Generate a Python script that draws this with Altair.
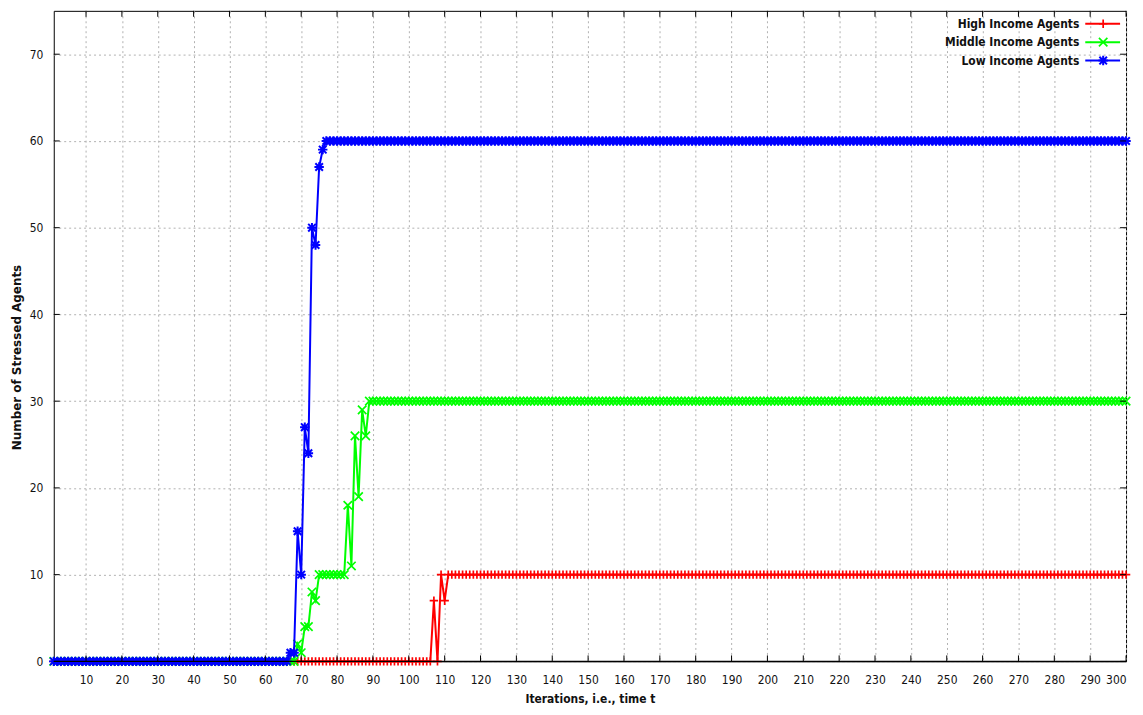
import altair as alt
import pandas as pd

# ---- data ----
iterations = list(range(1, 301))
high_income = [0] * 106 + [7, 0, 10, 7] + [10] * 190
middle_income = [0] * 68 + [2, 1, 4, 4, 8, 7] + [10] * 8 + [18, 11, 26, 19, 29, 26] + [30] * 212
low_income = [0] * 66 + [1, 1, 15, 10, 27, 24, 50, 48, 57, 59] + [60] * 224

series_names = ["High Income Agents", "Middle Income Agents", "Low Income Agents"]
series_values = [high_income, middle_income, low_income]
colors = ["#ff0000", "#00ff00", "#0000ff"]
shapes = [
    "M-1,0L1,0M0,-1L0,1",
    "M-1,-1L1,1M-1,1L1,-1",
    "M-1,0L1,0M0,-1L0,1M-0.8,-0.8L0.8,0.8M-0.8,0.8L0.8,-0.8",
]
marker_sizes = [72, 72, 90]
marker_widths = [1.7, 1.7, 2.0]
x_ticks = list(range(10, 301, 10))
y_ticks = list(range(0, 71, 10))

X_TITLE = "Iterations, i.e., time t"
Y_TITLE = "Number of Stressed Agents"

W, H = 1078, 654
FONT = "DejaVu Sans Condensed"

xs = alt.Scale(domain=[1, 300], nice=False, zero=False)
ys = alt.Scale(domain=[0, 75], nice=False, zero=False)

x_axis = alt.Axis(values=x_ticks, grid=True, gridDash=[2, 3], gridColor="#b0b0b0",
                  ticks=False, domain=False, labelPadding=13, titlePadding=8,
                  labelFont=FONT, labelFontSize=12, labelColor="#111111",
                  titleFont=FONT, titleFontSize=12, titleFontWeight="bold", titleColor="#111111")
y_axis = alt.Axis(values=y_ticks, grid=True, gridDash=[2, 3], gridColor="#b0b0b0",
                  ticks=False, domain=False, labelPadding=11, titlePadding=6, titleY=348,
                  labelFont=FONT, labelFontSize=12, labelColor="#111111",
                  titleFont="DejaVu Sans", titleFontSize=12, titleFontWeight="bold", titleColor="#111111")


def X(field):
    return alt.X(field, type="quantitative", scale=xs, axis=x_axis, title=X_TITLE)


def Y(field):
    return alt.Y(field, type="quantitative", scale=ys, axis=y_axis, title=Y_TITLE)


layers = []
for i, (name, vals, col, shp) in enumerate(zip(series_names, series_values, colors, shapes)):
    df = pd.DataFrame({"iter": iterations, "value": vals})
    line = alt.Chart(df).mark_line(color=col, strokeWidth=2).encode(x=X("iter"), y=Y("value"))
    pts = alt.Chart(df).mark_point(shape=shp, filled=False, size=marker_sizes[i],
                                   strokeWidth=marker_widths[i],
                                   color=col, opacity=1).encode(x=X("iter"), y=Y("value"))
    layers += [line, pts]

# zero line (bottom border drawn over data)
zero = alt.Chart(pd.DataFrame({"z": [0]})).mark_rule(color="black", strokeWidth=1.2).encode(y=Y("z"))
layers.append(zero)

# inward tick marks on all four sides
xt = pd.DataFrame({"t": x_ticks})
yt = pd.DataFrame({"t": y_ticks})
layers.append(alt.Chart(xt).mark_rule(color="black").encode(
    x=X("t"), y=alt.value(H), y2=alt.value(H - 6)))
layers.append(alt.Chart(xt).mark_rule(color="black").encode(
    x=X("t"), y=alt.value(0), y2=alt.value(6)))
layers.append(alt.Chart(yt).mark_rule(color="black").encode(
    y=Y("t"), x=alt.value(0), x2=alt.value(6)))
layers.append(alt.Chart(yt).mark_rule(color="black").encode(
    y=Y("t"), x=alt.value(W - 6), x2=alt.value(W)))

# legend (top-right, inside plot)
for i, (name, col, shp) in enumerate(zip(series_names, colors, shapes)):
    ld = pd.DataFrame({"label": [name]})
    yy = 13 + 18.5 * i
    layers.append(alt.Chart(ld).mark_text(align="right", baseline="middle", font=FONT,
                                          fontSize=12, fontWeight="bold", color="#111111").encode(
        text="label:N", x=alt.value(1031), y=alt.value(yy)))
    layers.append(alt.Chart(ld).mark_rule(color=col, strokeWidth=2).encode(
        x=alt.value(1037), x2=alt.value(1072), y=alt.value(yy)))
    layers.append(alt.Chart(ld).mark_point(shape=shp, filled=False, size=marker_sizes[i],
                                           strokeWidth=marker_widths[i],
                                           color=col, opacity=1).encode(
        x=alt.value(1055), y=alt.value(yy)))

chart = alt.layer(*layers).properties(
    width=W, height=H,
    padding={"left": 2, "top": 0, "right": 0, "bottom": 0},
    background="white",
).configure_view(stroke="black", strokeWidth=1)

chart.save("out.html", embed_options={"renderer": "svg", "actions": False})
